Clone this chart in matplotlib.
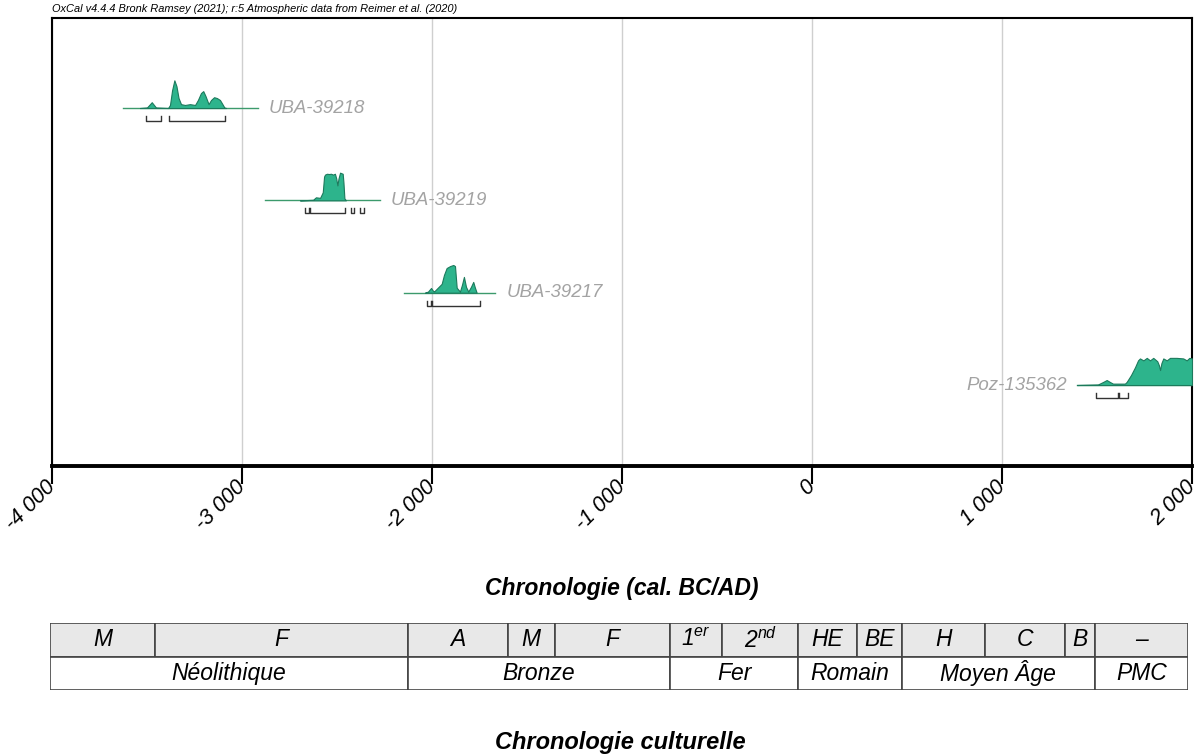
import matplotlib
matplotlib.use("Agg")
import matplotlib.pyplot as plt
from matplotlib.patches import Rectangle

plt.rcParams['font.family'] = ['Liberation Sans', 'DejaVu Sans']
plt.rcParams['mathtext.fontset'] = 'custom'
plt.rcParams['mathtext.it'] = 'Liberation Sans:italic'
plt.rcParams['mathtext.rm'] = 'Liberation Sans:italic'

# --- calibrated dates (relative probability, max = 1) ---
names = ['UBA-39218', 'UBA-39219', 'UBA-39217', 'Poz-135362']

years_39218 = [-3537, -3500, -3475, -3453, -3389, -3379, -3368, -3356, -3345, -3334,
               -3321, -3300, -3274, -3247, -3232, -3216, -3204, -3192, -3176, -3163,
               -3147, -3132, -3116, -3103, -3093, -3084]
prob_39218 = [0, 0.02, 0.21, 0.02, 0, 0.11, 0.64, 1.0, 0.79, 0.36,
              0.14, 0.11, 0.14, 0.11, 0.29, 0.54, 0.61, 0.43, 0.14, 0.29,
              0.39, 0.36, 0.29, 0.14, 0.02, 0]
span_39218 = (-3626, -2916)
ranges_39218 = [(-3505, -3428), (-3382, -3089)]

years_39219 = [-2695, -2626, -2611, -2589, -2575, -2568, -2563, -2553, -2542, -2532,
               -2521, -2511, -2504, -2498, -2492, -2484, -2470, -2466, -2461, -2453]
prob_39219 = [0, 0.02, 0.11, 0.09, 0.29, 0.86, 0.93, 0.96, 0.95, 0.96,
              0.93, 0.96, 0.79, 0.54, 0.79, 1.0, 0.96, 0.64, 0.07, 0]
span_39219 = (-2879, -2274)
ranges_39219 = [(-2668, -2647), (-2642, -2458), (-2426, -2411), (-2379, -2358)]

years_39217 = [-2037, -2021, -2005, -1995, -1988, -1975, -1949, -1937, -1923, -1905,
               -1888, -1879, -1870, -1853, -1842, -1832, -1821, -1809, -1795, -1783,
               -1774, -1765]
prob_39217 = [0, 0.04, 0.17, 0.07, 0.05, 0.14, 0.32, 0.64, 0.89, 0.96,
              1.0, 0.96, 0.18, 0.04, 0.29, 0.57, 0.21, 0.04, 0.21, 0.39,
              0.18, 0]
span_39217 = (-2147, -1668)
ranges_39217 = [(-2026, -2005), (-2000, -1747)]

years_poz = [1395, 1505, 1532, 1551, 1568, 1584, 1647, 1656, 1679, 1700,
             1716, 1726, 1744, 1762, 1779, 1796, 1817, 1826, 1832, 1839,
             1849, 1867, 1884, 1919, 1954, 1972, 1986, 2000]
prob_poz = [0, 0.02, 0.11, 0.18, 0.11, 0.05, 0.05, 0.11, 0.36, 0.64,
            0.89, 0.96, 0.89, 0.98, 0.89, 0.98, 0.86, 0.71, 0.54, 0.79,
            0.96, 0.89, 0.98, 0.98, 0.96, 0.89, 0.98, 0.96]
span_poz = (1395, 2000)
ranges_poz = [(1495, 1611), (1616, 1663)]

samples = [
    (years_39218, prob_39218, span_39218, ranges_39218, 'right'),
    (years_39219, prob_39219, span_39219, ranges_39219, 'right'),
    (years_39217, prob_39217, span_39217, ranges_39217, 'right'),
    (years_poz, prob_poz, span_poz, ranges_poz, 'left'),
]

# --- cultural chronology ---
sub_labels = ['M', 'F', 'A', 'M', 'F', r'$1^{er}$', r'$2^{nd}$', 'HE', 'BE', 'H', 'C', 'B', '–']
sub_bounds = [-4000, -3445, -2115, -1585, -1340, -730, -455, -55, 255, 490, 930, 1350, 1510, 2000]
period_labels = ['Néolithique', 'Bronze', 'Fer', 'Romain', 'Moyen Âge', 'PMC']
period_bounds = [-4000, -2115, -730, -55, 490, 1510, 2000]

xticks = [-4000, -3000, -2000, -1000, 0, 1000, 2000]

fill_col = '#2db48c'
edge_col = '#1c7a5c'
base_col = '#3c9a6c'
label_col = '#a3a3a3'

fig = plt.figure(figsize=(12.03, 7.55), dpi=100)
ax = fig.add_axes([52/1203, 1-466/755, 1140/1203, 448/755])

scale = 0.30
for i, (yrs, p, span, rng, side) in enumerate(samples):
    base = 4 - i
    ax.plot(span, [base, base], color=base_col, lw=1.0, zorder=3)
    top = [base + v*scale for v in p]
    ax.fill_between(yrs, base, top, facecolor=fill_col, edgecolor=edge_col,
                    lw=0.8, zorder=4)
    for a, b in rng:
        yb = base - 0.14
        ax.plot([a, a, b, b], [yb + 0.055, yb, yb, yb + 0.055],
                color='#333333', lw=1.0, zorder=3)
    if side == 'right':
        ax.annotate(names[i], (span[1], base), xytext=(8, 0), textcoords='offset points',
                    ha='left', va='center', fontsize=13.4, style='italic', color=label_col)
    else:
        ax.annotate(names[i], (span[0], base), xytext=(-7, 0), textcoords='offset points',
                    ha='right', va='center', fontsize=13.4, style='italic', color=label_col)

ax.set_xlim(-4000, 2000)
ax.set_ylim(0.123, 4.975)
ax.set_yticks([])
ax.set_xticks(xticks)
ax.set_xticklabels([f'{t:,}'.replace(',', ' ') for t in xticks],
                   rotation=45, rotation_mode='anchor', ha='right', va='center',
                   fontsize=15.5, style='italic')
ax.tick_params(axis='x', length=13, width=1.5, direction='out', pad=0)
ax.grid(axis='x', color='#cfcfcf', lw=1.0)
ax.set_axisbelow(True)
for s in ['top', 'left', 'right']:
    ax.spines[s].set_linewidth(1.5)
ax.spines['bottom'].set_linewidth(2.8)
ax.set_xlabel('Chronologie (cal. BC/AD)', fontsize=16.5, fontweight='bold', style='italic',
              va='center')
ax.xaxis.set_label_coords(0.5, -(588 - 466)/448)

fig.text(52/1203, 1-9/755, 'OxCal v4.4.4 Bronk Ramsey (2021); r:5 Atmospheric data from Reimer et al. (2020)',
         fontsize=7.9, style='italic', ha='left', va='center')

# table
tab = fig.add_axes([50/1203, 1-690/755, 1138/1203, 67/755])
tab.set_xlim(-4000, 2000)
tab.set_ylim(0, 2)
tab.axis('off')
line_col = '#444444'
for j, lab in enumerate(sub_labels):
    a, b = sub_bounds[j], sub_bounds[j+1]
    tab.add_patch(Rectangle((a, 1), b - a, 1, facecolor='#e8e8e8', edgecolor=line_col, lw=1.2))
    tab.text((a + b)/2, 1.5, lab, ha='center', va='center', fontsize=16.5, style='italic')
for j, lab in enumerate(period_labels):
    a, b = period_bounds[j], period_bounds[j+1]
    tab.add_patch(Rectangle((a, 0), b - a, 1, facecolor='white', edgecolor=line_col, lw=1.2))
    tab.text((a + b)/2, 0.5, lab, ha='center', va='center', fontsize=16.5, style='italic')

fig.text(620/1203, 1-742/755, 'Chronologie culturelle', fontsize=17, fontweight='bold',
         style='italic', ha='center', va='center')

fig.savefig('out.png', dpi=100)
